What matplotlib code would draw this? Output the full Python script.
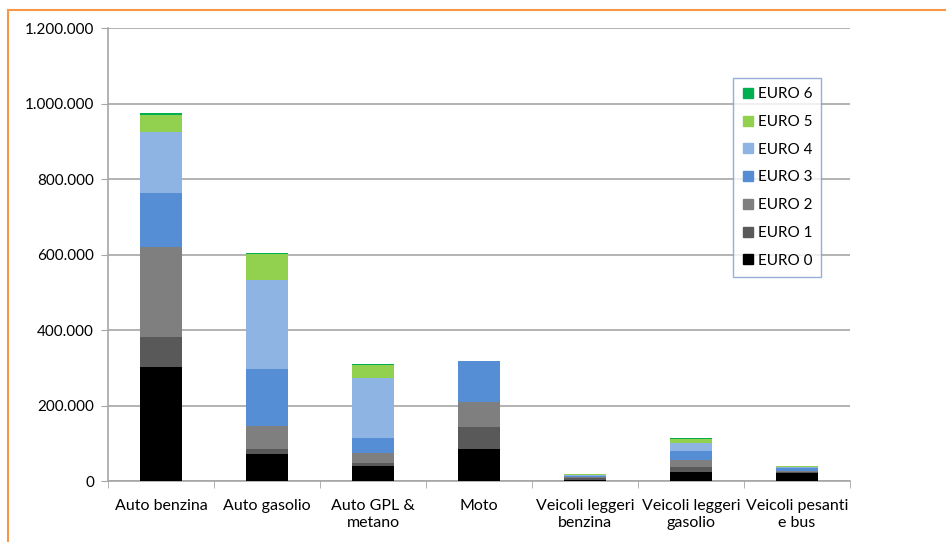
import matplotlib
matplotlib.use("Agg")
import matplotlib.pyplot as plt
import numpy as np
from matplotlib.lines import Line2D
from matplotlib.ticker import FuncFormatter, MultipleLocator

# data (vehicles, thousands -> units below)
categories = ["Auto benzina", "Auto gasolio", "Auto GPL &\nmetano", "Moto",
              "Veicoli leggeri\nbenzina", "Veicoli leggeri\ngasolio",
              "Veicoli pesanti\ne bus"]
classes = ["EURO 0", "EURO 1", "EURO 2", "EURO 3", "EURO 4", "EURO 5", "EURO 6"]
euro0 = [302, 71, 41, 85, 4, 25, 21]
euro1 = [80, 15, 8, 58, 3.5, 13, 3]
euro2 = [238, 59, 24, 67, 3, 18.6, 3]
euro3 = [142, 153, 42, 107, 3, 24, 7]
euro4 = [162, 235, 159, 0, 2, 20, 2]
euro5 = [46, 69, 33, 0, 2, 10, 3]
euro6 = [5, 3, 4, 0, 1.5, 2.6, 0.5]
colors = ["#000000", "#595959", "#7f7f7f", "#558ed5", "#8eb4e3", "#92d050", "#00b050"]

plt.rcParams['font.family'] = ['Lato', 'DejaVu Sans']

fig = plt.figure(figsize=(9.46, 5.42), dpi=100)
ax = fig.add_axes([0.1142, 0.1125, 0.7843, 0.8358])

x = np.arange(len(categories))
series = [euro0, euro1, euro2, euro3, euro4, euro5, euro6]
bottom = np.zeros(len(categories))
handles = []
for vals, col, lab in zip(series, colors, classes):
    v = np.array(vals) * 1000
    ax.bar(x, v, 0.4, bottom=bottom, color=col, zorder=3)
    bottom += v
    handles.append(Line2D([], [], marker='s', linestyle='none', markersize=7,
                          markerfacecolor=col, markeredgecolor=col, label=lab))

ax.set_xlim(-0.5, len(categories) - 0.5)
ax.set_ylim(0, 1200000)
ax.yaxis.set_major_locator(MultipleLocator(200000))
ax.yaxis.set_major_formatter(FuncFormatter(lambda v, p: f"{int(v):,}".replace(",", ".")))
ax.grid(axis='y', color='#a6a6a6', linewidth=1.2, zorder=0)

ax.set_xticks(x)
ax.set_xticklabels(categories, fontsize=11.5, linespacing=1.3)
ax.set_xticks(np.arange(len(categories) + 1) - 0.5, minor=True)
ax.tick_params(axis='x', which='major', length=0, pad=13)
ax.tick_params(axis='x', which='minor', length=5, color='#a6a6a6')
ax.tick_params(axis='y', length=5, color='#a6a6a6', labelsize=11, pad=5)

for s in ['top', 'right']:
    ax.spines[s].set_visible(False)
for s in ['left', 'bottom']:
    ax.spines[s].set_color('#a6a6a6')
    ax.spines[s].set_linewidth(1.2)

leg = fig.legend(handles=handles[::-1], loc='upper left',
                 bbox_to_anchor=(0.775, 0.856), fontsize=11, frameon=True,
                 fancybox=False, edgecolor='#7a9bd0', labelspacing=0.9,
                 handlelength=0.7, handletextpad=0.3, borderpad=0.6,
                 borderaxespad=0)
leg.get_frame().set_linewidth(1.0)

# orange frame around the chart (cropped on right and bottom)
fig.add_artist(Line2D([0.0085, 1.0], [0.9815, 0.9815], color='#f79646', linewidth=1.5))
fig.add_artist(Line2D([0.0085, 0.0085], [0.0, 0.9815], color='#f79646', linewidth=1.5))

fig.savefig("out.png", dpi=100)
